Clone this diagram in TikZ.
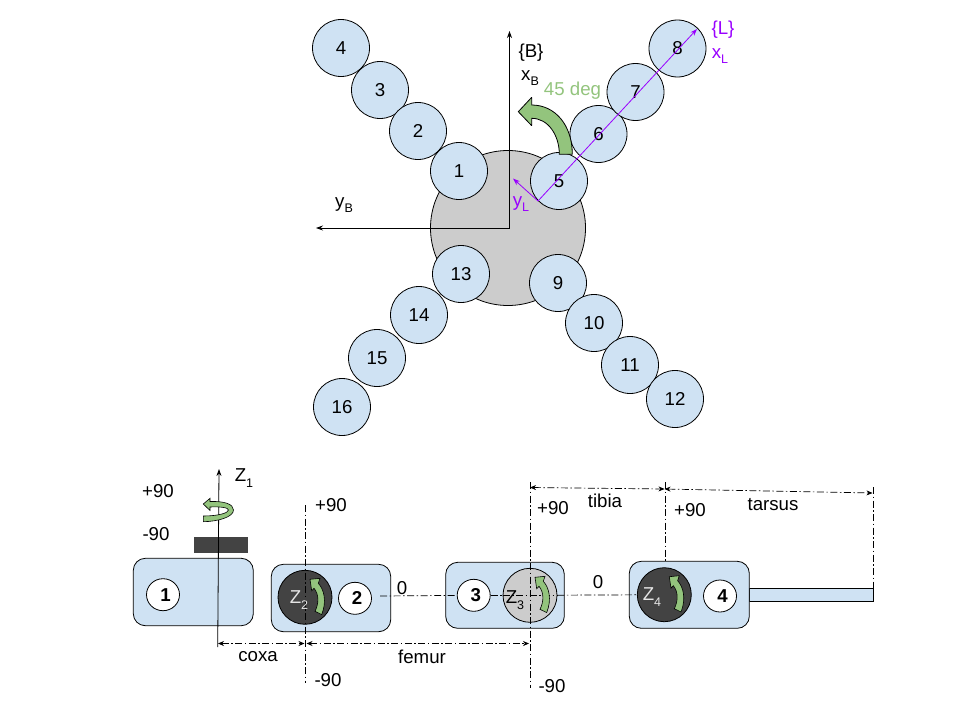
\documentclass[tikz,border=0pt]{standalone}
\usepackage{fontspec}
\setmainfont{Liberation Sans}
\usetikzlibrary{arrows.meta,shapes.geometric}
\definecolor{lblue}{HTML}{CFE2F3}
\definecolor{lgray}{HTML}{CCCCCC}
\definecolor{dgray}{HTML}{434343}
\definecolor{lgreen}{HTML}{93C47D}
\definecolor{vio}{HTML}{9900FF}
\newcommand{\subtx}[1]{\raisebox{-5.5pt}{\fontsize{12.5}{12.5}\selectfont #1}}
\tikzset{
 x=1pt,y=-1pt,
 link/.style={circle,draw=black,fill=lblue,line width=0.8pt,minimum size=57pt,inner sep=0pt,font=\fontsize{18.67}{18.67}\selectfont},
 lbl/.style={inner sep=0pt,font=\fontsize{18.67}{18.67}\selectfont},
 joint/.style={circle,draw=black,line width=0.8pt,minimum size=54pt,inner sep=0pt},
 num/.style={ellipse,draw=black,fill=white,line width=0.8pt,minimum width=33pt,minimum height=32pt,inner sep=0pt,font=\fontsize{18.67}{18.67}\selectfont\bfseries},
 linkbox/.style={draw=black,fill=lblue,line width=0.8pt,rounded corners=12pt},
 arr/.style={-{Stealth[length=7pt,width=5pt]},line width=0.8pt},
 dd/.style={line width=0.7pt,dash pattern=on 7pt off 2.5pt on 1.5pt off 2.5pt},
 ddim/.style={dd,{Stealth[length=6pt,width=5pt]}-{Stealth[length=6pt,width=5pt]}},
 turn/.style={fill=lgreen,draw=black,line width=0.6pt},
}
\begin{document}
\begin{tikzpicture}
\useasboundingbox (0,0) rectangle (960,720);
% body
\node[circle,draw=black,fill=lgray,line width=0.8pt,minimum size=155pt,inner sep=0pt] (body) at (508,228) {};
\coordinate (bo) at (509.5,228);
\coordinate (bx) at (509.5,31);
\coordinate (by) at (316,228);
\draw[arr] (bo)--(bx);
\draw[arr] (bo)--(by);
% legs
\foreach \n/\x/\y in {4/341/48,3/380/90,2/418/131,1/459/171,5/559/181,6/598.5/134,7/635.5/92,8/677.5/48.5,9/558/283,10/594/323,11/630/365,12/675/399,13/461/274,14/419/315,15/377/358,16/342/407}
 \node[link] (l\n) at (\x,\y) {\n};
% purple
\coordinate (lo) at (538,201);
\coordinate (lx) at (697,29);
\coordinate (ly) at (513,178.5);
\draw[arr,vio] (lo)--(lx);
\draw[arr,vio] (lo)--(ly);
% green arrow
\fill[lgreen,draw=black,line width=0.8pt,miter limit=2] (572.3,154.3) .. controls (572.3,125) and (555,105) .. (531.7,105) -- (531.7,97.3) -- (518.3,111.7) -- (531.7,125.7) -- (531.7,118.3) .. controls (548,118.3) and (559.3,135) .. (559.3,154.3) -- cycle;
\node[lbl,text=lgreen] (deg) at (572.5,91) {45 deg};
\node[lbl] (tb) at (531,53) {\{B\}};
\node[lbl] (txb) at (530,78) {x\subtx{B}};
\node[lbl] (tyb) at (344,205) {y\subtx{B}};
\node[lbl,text=vio] (tl) at (723,30) {\{L\}};
\node[lbl,text=vio] (txl) at (720,56) {x\subtx{L}};
\node[lbl,text=vio] (tyl) at (521,204) {y\subtx{L}};
% bottom boxes
\draw[linkbox] (133.3,558.3) rectangle (253.3,625.7);
\draw[linkbox] (271.3,564.3) rectangle (390.7,631.7);
\draw[linkbox] (445.7,562.3) rectangle (564.3,628.3);
\draw[draw=black,fill=lblue,line width=0.8pt] (749.3,588.3) rectangle (873.3,601.3);
\draw[linkbox] (629.3,561.3) rectangle (749.3,628.3);
\fill[dgray] (194,537.3) rectangle (247.7,553.3);
% joints
\node[joint,fill=dgray] (j2) at (305,597.3) {};
\node[joint,fill=lgray] (j3) at (530,595.3) {};
\node[joint,fill=dgray] (j4) at (664.3,594.7) {};
\node[num] (n1) at (163,594.7) {\kern5pt 1};
\node[num] (n2) at (355,598.3) {\kern4pt 2};
\node[num] (n3) at (473.7,595.3) {\kern4pt 3};
\node[num] (n4) at (720,596) {\kern5pt 4};
% axes
\coordinate (z1a) at (217.7,647);
\coordinate (z1b) at (219,469);
\draw[arr] (z1a)--(z1b);
\coordinate (a2) at (305.5,505); \coordinate (b2) at (305.5,683);
\coordinate (a3) at (530,482); \coordinate (b3) at (530,688);
\coordinate (a4) at (665,482); \coordinate (b4) at (665,561);
\coordinate (a5) at (873.5,487); \coordinate (b5) at (873.5,588);
\draw[dd] (a2)--(b2);
\draw[dd] (a3)--(b3);
\draw[dd] (a4)--(b4);
\draw[dd] (a5)--(b5);
\coordinate (h1) at (380,596);
\draw[dd] (h1)--(n3);
\draw[dd] (n3)--(j3);
\draw[dd] (j3)--(j4);
\draw[dd] (j3.west)--(j3.east);
% rotation arrows
\draw[turn] (203.3,504) -- (210,498.3) -- (210,501.5) .. controls (224,501) and (233.5,504) .. (233.5,510) .. controls (233.5,517) and (218,521.5) .. (203.3,521.7) -- (203.3,516) .. controls (218,516) and (228.5,513) .. (228.5,510) .. controls (228.5,507.5) and (220,506.5) .. (210,507) -- (210,510.5) -- cycle;
\foreach \cx/\cy in {305/597.3,530/595.3,664.3/594.7}{
 \begin{scope}[shift={(\cx,\cy)}]
 \draw[turn] (5,-18) -- (15,-19) -- (13.3,-14) .. controls (19,-8) and (22,4) .. (16.7,17.3) -- (10,14) .. controls (14,6) and (14,-3) .. (9,-9) -- (6.7,-6.5) -- cycle;
 \end{scope}
}
\node[lbl,text=white!90!black] (z2) at (299,600) {Z\subtx{2}};
\node[lbl,text=black] (z3) at (515,600) {Z\subtx{3}};
\node[lbl,text=white!90!black] (z4) at (652,597) {Z\subtx{4}};
% dimensions
\coordinate (c1) at (218,643.5); \coordinate (c2) at (304.5,643.5);
\coordinate (f1) at (306.5,643.5); \coordinate (f2) at (529,643.5);
\coordinate (t1) at (530,487.5); \coordinate (t2) at (664.5,489);
\coordinate (s1) at (664.5,489); \coordinate (s2) at (872.5,493);
\draw[ddim] (c1)--(c2);
\draw[ddim] (f1)--(f2);
\draw[ddim] (t1)--(t2);
\draw[ddim] (s1)--(s2);
% texts
\node[lbl] (p1) at (158,491) {+90};
\node[lbl] (m1) at (156,534) {-90};
\node[lbl] (tz1) at (244,478) {Z\subtx{1}};
\node[lbl] (p2) at (331,505) {+90};
\node[lbl] (tc) at (258,657) {coxa};
\node[lbl] (tf) at (422,657) {femur};
\node[lbl] (m2) at (328,680) {-90};
\node[lbl] (o1) at (402,588) {0};
\node[lbl] (p3) at (553,508) {+90};
\node[lbl] (o2) at (598,582) {0};
\node[lbl] (m3) at (552,686) {-90};
\node[lbl] (tt) at (605,501) {tibia};
\node[lbl] (p4) at (690,510) {+90};
\node[lbl] (ts) at (773,505) {tarsus};
\end{tikzpicture}
\end{document}
